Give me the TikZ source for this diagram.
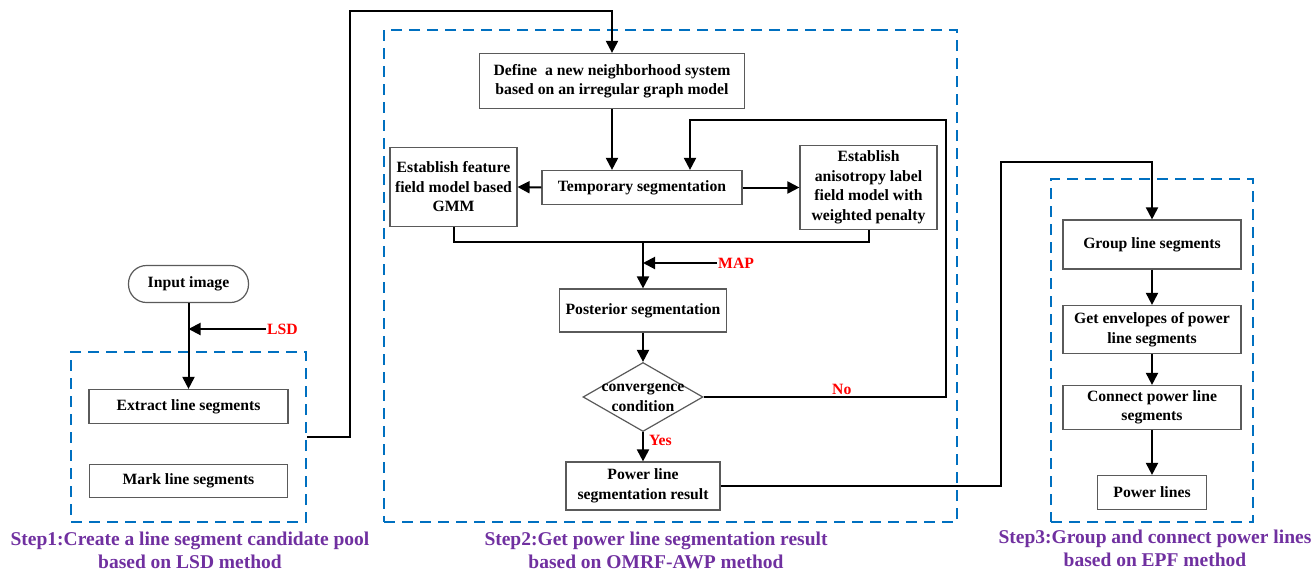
\documentclass[tikz,border=0pt]{standalone}
\usepackage{fontspec}
\setmainfont{Liberation Serif}
\usetikzlibrary{shapes,arrows.meta,positioning,calc}
\definecolor{stepblue}{RGB}{0,112,192}
\definecolor{steppurple}{RGB}{112,48,160}
\definecolor{boxgray}{RGB}{90,90,90}

\begin{document}
\begin{tikzpicture}[x=1pt, y=-1pt,
            box/.style={rectangle, draw=boxgray, line width=1.2pt, fill=white, inner sep=0pt, align=center, font=\bfseries\fontsize{15.7}{19.5}\selectfont},
            start/.style={box, rounded corners=18pt},
            cond/.style={diamond, draw=boxgray, line width=1.2pt, fill=white, inner sep=0pt},
            condtext/.style={align=center, inner sep=0pt, font=\bfseries\fontsize{15.7}{20}\selectfont},
            stepbox/.style={rectangle, draw=stepblue, line width=2pt, dash pattern=on 11pt off 7pt, inner sep=0pt},
            steplabel/.style={align=center, inner sep=0pt, text=steppurple, font=\bfseries\fontsize{19.5}{23}\selectfont},
            lbl/.style={text=red, inner sep=1pt, font=\bfseries\fontsize{15.7}{19}\selectfont},
            line/.style={line width=2pt},
            arrow/.style={-{Triangle[length=12pt, width=12pt]}, line width=2pt}
        ]
        \useasboundingbox (0,0) rectangle (1316,570);
        
        \node[stepbox, minimum width=235pt, minimum height=170pt] (step1) at (188.5,437) {};
        \node[stepbox, minimum width=573pt, minimum height=492pt] (step2) at (670.5,276) {};
        \node[stepbox, minimum width=202pt, minimum height=343pt] (step3) at (1152,350.5) {};
        
        \node[steplabel] (label1) at (190,550) {Step1:Create a line segment candidate pool\\based on LSD method};
        \node[steplabel] (label2) at (656,550) {Step2:Get power line segmentation result\\based on OMRF-AWP method};
        \node[steplabel] (label3) at (1155,548) {Step3:Group and connect power lines\\based on EPF method};
        
        \node[start, minimum width=120pt, minimum height=37pt] (input) at (188.5,284) {Input image};
        \node[box, minimum width=199pt, minimum height=34pt] (extract) at (188.5,406.5) {Extract line segments};
        \node[box, minimum width=198pt, minimum height=33pt] (mark) at (188.5,481) {Mark line segments};
        \node[lbl, anchor=west] (lsd) at (266,329) {LSD};
        
        \node[box, minimum width=265pt, minimum height=55pt] (define) at (612,81) {Define\ \ a new neighborhood system\\based on an irregular graph model};
        \node[box, minimum width=200pt, minimum height=34pt] (temp) at (642,187.5) {Temporary segmentation};
        \node[box, minimum width=127pt, minimum height=79pt] (feature) at (453.5,187) {Establish feature\\field model based\\GMM};
        \node[box, minimum width=137pt, minimum height=84pt] (aniso) at (868.5,187.5) {Establish\\anisotropy label\\field model with\\weighted penalty};
        \node[box, minimum width=167pt, minimum height=43pt] (post) at (643,310.5) {Posterior segmentation};
        \node[cond, minimum width=120pt, minimum height=69pt] (conv) at (643,397) {};
        \node[condtext] (convtext) at (643,398) {convergence\\condition};
        \node[box, minimum width=154pt, minimum height=48pt] (result) at (643,486) {Power line\\segmentation result};
        \node[lbl, anchor=west] (map) at (717,263) {MAP};
        
        \node[box, minimum width=178pt, minimum height=49pt] (group) at (1152,244.5) {Group line segments};
        \node[box, minimum width=178pt, minimum height=48pt] (envelope) at (1152,329.5) {Get envelopes of power\\line segments};
        \node[box, minimum width=178pt, minimum height=44pt] (connect) at (1152,407.5) {Connect power line\\segments};
        \node[box, minimum width=109pt, minimum height=34pt] (plines) at (1152,492.5) {Power lines};
        
        \coordinate (up) at (350,11);
        \coordinate (merge) at (643,242);
        \coordinate (back) at (946,120);
        \coordinate (over) at (1001,162);
        
        \draw[arrow] (input) -- (extract);
        \draw[arrow] (lsd.west) -- (lsd.west -| input.south);
        \draw[arrow] (step1.east) -| (up) -| (define.north);
        \draw[arrow] (define.south) -- (define.south |- temp.north);
        \draw[arrow] (temp.west) -- (feature.east);
        \draw[arrow] (temp.east) -- (aniso.west);
        \draw[line] (feature.south) |- (merge) -| (aniso.south);
        \draw[arrow] (merge) -- (post.north);
        \draw[arrow] (map.west) -- (map.west -| merge);
        \draw[arrow] (post) -- (conv);
        \draw[arrow] (conv) -- node[lbl, right, pos=0.3, xshift=4pt] {Yes} (result);
        \draw[arrow] (conv.east) -- node[lbl, above, pos=0.57] {No} (conv.east -| back) -- (back) -| ([xshift=48pt]temp.north);
        \draw[arrow] (result.east) -| (over) -| (group.north);
        \draw[arrow] (group) -- (envelope);
        \draw[arrow] (envelope) -- (connect);
        \draw[arrow] (connect) -- (plines);
        
        \end{tikzpicture}
\end{document}
